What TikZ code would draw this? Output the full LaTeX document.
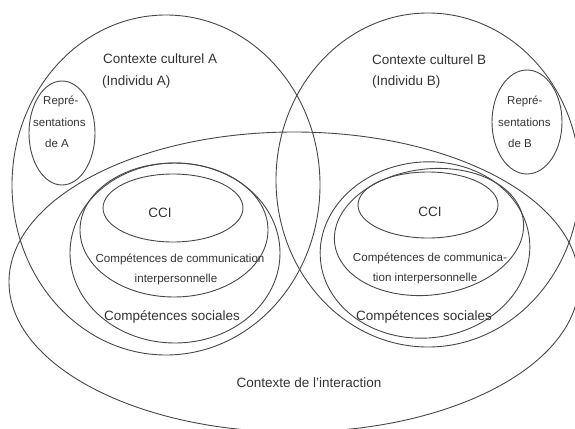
\documentclass[tikz,border=0pt]{standalone}
\usepackage{fontspec}
\setmainfont{Liberation Sans}
\begin{document}
\begin{tikzpicture}[x=1pt,y=-1pt,
  ring/.style={draw=black!72,line width=0.9pt},
  lbl/.style={inner sep=0pt,text=black!80,font=\fontsize{13.5}{16}\selectfont},
  small/.style={inner sep=0pt,text=black!80,font=\fontsize{11.6}{20}\selectfont},
  repr/.style={inner sep=0pt,text=black!80,align=left,font=\fontsize{11.5}{21.5}\selectfont}]
\useasboundingbox (0,0) rectangle (575,428);
\clip (0,0) rectangle (575,428);

% cultural contexts of the two individuals
\draw[ring] (166,185) ellipse [x radius=154, y radius=170];
\draw[ring] (428,180) ellipse [x radius=152, y radius=167];
% context of the interaction
\draw[ring] (294,282) ellipse [x radius=285, y radius=150];
% representations
\draw[ring] (62,133) ellipse [x radius=33, y radius=52];
\draw[ring] (527,122) ellipse [x radius=35, y radius=52];
% nested competences, individual A
\draw[ring] (173,208) ellipse [x radius=70, y radius=34];
\draw[ring] (174,230) ellipse [x radius=94, y radius=67];
\draw[ring] (175,253) ellipse [x radius=105, y radius=90];
% nested competences, individual B (slightly tilted)
\draw[ring] (428,205) ellipse [x radius=70, y radius=33];
\draw[ring,rotate around={7:(429,232)}] (429,232) ellipse [x radius=95, y radius=63];
\draw[ring,rotate around={6:(425,250)}] (425,250) ellipse [x radius=105, y radius=88];

% labels
\node[lbl,anchor=west] (ctxA) at (103,59) {Contexte culturel A};
\node[lbl,anchor=west] (indA) at (102,82) {(Individu A)};
\node[lbl,anchor=west] (ctxB) at (372,60) {Contexte culturel B};
\node[lbl,anchor=west] (indB) at (372,82) {(Individu B)};
\node[repr,anchor=north west] (repA) at (33,96) {\hspace{10pt}Repré-\\sentations\\\hspace{12pt}de A};
\node[repr,anchor=north west] (repB) at (498,96) {\hspace{9pt}Repré-\\sentations\\\hspace{10pt}de B};
\node[lbl] (cciA) at (160,213) {CCI};
\node[lbl] (cciB) at (430,212) {CCI};
\node[small] (comA1) at (180,259) {Compétences de communication};
\node[small] (comA2) at (176,279) {interpersonnelle};
\node[small] (comB1) at (430,258) {Compétences de communica-};
\node[small] (comB2) at (425,278) {tion interpersonnelle};
\node[lbl] (socA) at (172,317) {Compétences sociales};
\node[lbl] (socB) at (424,317) {Compétences sociales};
\node[lbl] (inter) at (309,383) {Contexte de l'interaction};
\end{tikzpicture}
\end{document}
